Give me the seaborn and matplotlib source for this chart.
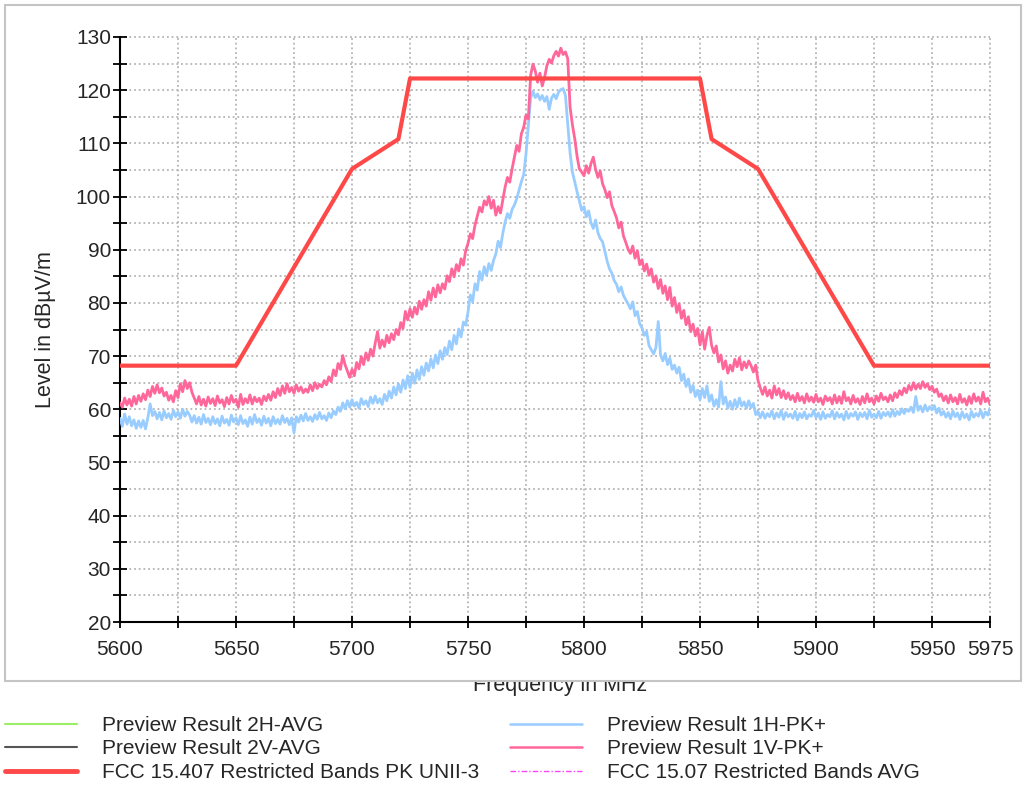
import numpy as np
import pandas as pd
import matplotlib
matplotlib.use("Agg")
import matplotlib.pyplot as plt
from matplotlib.patches import Rectangle
from matplotlib.transforms import Bbox
from matplotlib.ticker import FixedLocator, MultipleLocator, NullFormatter
import seaborn as sns

# ---------------------------------------------------------------- data
freq_start_mhz = 5600
freq_stop_mhz = 5975
# sweep points, 1 MHz apart
freq_mhz = np.arange(freq_start_mhz, freq_stop_mhz + 1)

# Preview Result 1V-PK+ (dBuV/m)
level_1v_pk = [
    61.2, 60.4, 62.1, 60.8, 61.9, 60.6, 62.4, 61.0, 62.6, 61.5,
    62.9, 61.8, 63.6, 62.4, 64.3, 63.0, 64.6, 63.1, 64.0, 62.5,
    63.2, 61.7, 62.6, 61.4, 63.5, 62.2, 64.8, 63.3, 65.4, 63.9,
    65.0, 63.2, 62.1, 61.0, 62.4, 60.8, 61.9, 60.6, 62.3, 61.1,
    62.0, 60.7, 62.5, 61.2, 61.8, 60.5, 62.2, 61.0, 62.6, 61.3,
    61.9, 60.4, 62.8, 60.9, 62.0, 61.2, 62.7, 61.0, 62.3, 61.4,
    62.1, 60.9, 62.5, 61.6, 62.8, 61.7, 63.3, 62.2, 63.9, 62.6,
    64.4, 63.0, 64.8, 63.3, 64.1, 63.0, 64.6, 63.4, 64.2, 63.1,
    63.8, 63.2, 64.6, 63.5, 65.0, 63.9, 64.7, 64.2, 65.4, 64.6,
    66.1, 65.2, 67.4, 66.3, 68.6, 67.5, 70.1, 68.4, 67.2, 66.0,
    67.5, 66.3, 68.8, 67.6, 69.9, 68.4, 70.6, 69.2, 71.3, 70.0,
    72.4, 74.6, 71.5, 73.0, 71.8, 73.9, 72.5, 74.2, 73.1, 75.0,
    74.0, 76.3, 75.2, 78.4, 76.8, 78.9, 77.3, 79.2, 77.9, 80.3,
    78.8, 80.6, 79.4, 82.1, 80.5, 82.8, 81.1, 83.4, 81.9, 83.6,
    82.6, 85.1, 84.0, 86.4, 84.9, 87.2, 86.0, 88.3, 87.1, 89.8,
    91.2, 93.0, 92.1, 94.6, 96.3, 98.0, 97.1, 99.2, 98.4, 100.0,
    97.8, 99.3, 96.5, 98.1, 96.9, 99.4, 101.8, 103.6, 102.7, 105.2,
    107.4, 109.6, 108.5, 111.8, 113.0, 115.3, 114.6, 122.8, 124.9, 123.6,
    121.5, 123.2, 120.8, 122.4, 124.6, 125.8, 125.1, 126.5, 127.3, 126.4,
    127.9, 126.7, 127.2, 125.9, 116.8, 113.5, 110.9, 107.6, 105.2, 104.6,
    103.9, 105.8, 104.4, 106.2, 107.4, 105.1, 103.6, 104.8, 102.4, 101.3,
    99.8, 100.9, 98.3, 97.2, 96.0, 94.1, 95.2, 92.6, 91.4, 90.1,
    89.3, 90.7, 88.4, 89.8, 87.2, 88.1, 86.0, 87.3, 85.2, 86.4,
    83.9, 85.1, 82.7, 84.4, 81.8, 83.2, 80.6, 82.9, 79.4, 81.0,
    78.2, 79.8, 77.1, 78.6, 75.9, 77.4, 74.6, 76.0, 73.8, 75.2,
    72.1, 74.6, 71.3, 73.9, 75.4, 72.0, 70.6, 71.9, 68.9, 70.2,
    67.6, 69.1, 66.8, 68.3, 67.2, 69.4, 68.0, 69.7, 67.4, 68.9,
    67.8, 69.1, 68.2, 67.0, 68.3, 65.4, 64.0, 62.8, 64.2, 62.5,
    63.6, 62.1, 64.4, 62.7, 63.9, 62.2, 63.5, 62.0, 63.1, 61.8,
    62.6, 61.4, 63.0, 61.6, 62.4, 61.2, 62.9, 61.5, 62.3, 61.3,
    62.8, 61.4, 62.1, 60.9, 62.5, 61.6, 62.2, 61.0, 62.7, 61.2,
    62.4, 61.1, 63.3, 61.6, 62.2, 61.0, 62.6, 61.3, 62.0, 60.9,
    62.4, 61.2, 62.9, 61.4, 62.1, 61.0, 62.5, 61.5, 63.0, 61.8,
    62.3, 61.4, 62.7, 61.6, 63.1, 62.2, 63.5, 62.7, 64.0, 63.1,
    64.5, 63.6, 65.0, 63.8, 64.7, 63.9, 65.2, 64.1, 64.8, 63.7,
    64.3, 63.2, 63.8, 62.4, 62.9, 61.6, 62.5, 61.2, 62.7, 61.4,
    62.2, 61.0, 62.8, 61.3, 62.0, 60.8, 62.4, 61.1, 62.9, 61.5,
    62.3, 61.0, 63.2, 61.4, 62.1, 60.9,
]

# Preview Result 1H-PK+ (dBuV/m)
level_1h_pk = [
    58.3, 56.8, 59.1, 57.2, 58.6, 56.9, 58.0, 56.4, 57.8, 56.6,
    57.9, 56.3, 58.4, 61.0, 58.8, 59.6, 58.2, 59.4, 58.0, 59.7,
    58.4, 59.2, 58.1, 59.8, 58.6, 59.5, 58.3, 60.0, 58.7, 59.6,
    58.9, 57.6, 58.8, 57.4, 58.5, 57.2, 59.0, 57.5, 58.3, 57.1,
    58.6, 57.3, 58.2, 56.9, 58.7, 57.4, 58.1, 57.0, 58.9, 57.6,
    58.4, 57.1, 58.8, 57.3, 58.0, 56.8, 58.5, 57.2, 59.0, 57.5,
    58.2, 57.0, 58.7, 57.4, 58.3, 56.9, 58.6, 57.3, 58.1, 57.2,
    58.8, 57.5, 58.3, 57.1, 58.4, 55.6, 58.6, 57.6, 58.9, 57.8,
    59.2, 57.9, 58.6, 57.7, 59.0, 58.1, 59.4, 58.2, 58.8, 57.9,
    59.3, 58.4, 59.7, 59.0, 60.4, 59.6, 61.2, 60.1, 61.6, 60.4,
    61.8, 60.6, 61.3, 60.2, 62.0, 60.9, 61.6, 60.5, 62.3, 61.1,
    62.5, 61.2, 62.0, 60.9, 62.8, 61.6, 63.4, 62.1, 64.2, 62.7,
    64.8, 63.2, 65.5, 63.9, 66.3, 64.1, 66.8, 64.9, 67.4, 65.6,
    68.0, 66.4, 68.7, 67.2, 69.5, 67.8, 70.2, 68.6, 71.0, 69.4,
    71.6, 70.3, 72.8, 71.2, 73.9, 72.3, 75.1, 73.6, 76.4, 75.8,
    78.3, 81.5, 80.2, 83.6, 82.4, 85.9, 84.3, 86.8, 85.2, 87.4,
    86.1, 88.0, 89.2, 91.6, 90.4, 93.1, 95.2, 96.8, 95.9, 97.6,
    98.4, 99.6, 101.2, 102.8, 104.1, 108.0, 113.2, 118.5, 119.8, 118.6,
    119.3, 118.2, 119.0, 117.9, 118.8, 116.4, 118.5, 119.2, 118.4, 119.6,
    120.1, 120.3, 119.0, 113.5, 108.2, 104.6, 102.8, 100.9, 99.2, 97.4,
    98.1, 96.2, 97.3, 95.1, 94.0, 95.6, 93.2, 92.1, 91.5, 89.7,
    87.8, 86.4, 85.6, 84.2, 83.5, 82.1, 83.0, 81.4, 80.6, 79.8,
    78.9, 80.2, 77.6, 78.4, 76.1, 75.3, 73.9, 74.6, 72.0, 71.2,
    70.4, 71.6, 76.5, 70.2, 69.1, 70.5, 68.4, 69.6, 67.5, 68.3,
    66.8, 67.9, 65.4, 66.6, 64.3, 65.7, 63.2, 64.5, 62.4, 63.6,
    61.8, 63.9, 62.2, 64.4, 61.5, 62.7, 60.6, 61.8, 60.4, 65.2,
    61.0, 62.3, 60.2, 61.5, 60.0, 61.8, 60.4, 62.1, 60.6, 61.4,
    60.2, 61.6, 60.3, 61.1, 59.0, 59.6, 58.4, 59.5, 58.3, 59.2,
    58.6, 59.7, 58.2, 59.3, 58.5, 59.8, 58.1, 59.4, 58.6, 59.1,
    58.3, 59.6, 58.0, 59.2, 58.4, 59.5, 58.2, 59.0, 58.7, 59.8,
    58.4, 59.3, 58.1, 59.5, 58.3, 59.0, 58.6, 59.7, 58.2, 59.4,
    58.5, 59.1, 58.0, 59.6, 58.3, 59.2, 58.7, 59.5, 58.1, 59.3,
    58.6, 59.4, 58.2, 59.8, 58.5, 59.1, 58.4, 59.6, 58.3, 59.4,
    58.8, 59.5, 58.6, 59.9, 58.7, 59.6, 59.0, 60.1, 59.2, 60.0,
    59.6, 60.4, 59.4, 62.4, 59.8, 60.6, 59.5, 60.8, 59.7, 60.5,
    59.9, 60.7, 59.3, 60.2, 58.9, 59.6, 58.5, 59.4, 58.2, 59.7,
    58.6, 59.3, 58.1, 59.5, 58.4, 59.1, 58.0, 59.6, 58.5, 59.2,
    58.7, 59.8, 58.4, 59.5, 58.9, 60.2,
]

# FCC 15.407 restricted-band peak limit around UNII-3
limit_freq_mhz = [5600, 5650, 5700, 5720, 5725, 5850, 5855, 5875, 5925, 5975]
limit_pk_unii3 = [68.2, 68.2, 105.2, 110.8, 122.2, 122.2, 110.8, 105.2, 68.2, 68.2]

x_tick_values = [5600, 5650, 5700, 5750, 5800, 5850, 5900, 5950, 5975]
x_minor_values = [5625, 5675, 5725, 5775, 5825, 5875, 5925]
y_min, y_max = 20, 130

name_2h_avg = "Preview Result 2H-AVG"
name_2v_avg = "Preview Result 2V-AVG"
name_limit_pk = "FCC 15.407 Restricted Bands PK UNII-3"
name_1h_pk = "Preview Result 1H-PK+"
name_1v_pk = "Preview Result 1V-PK+"
name_limit_avg = "FCC 15.07 Restricted Bands AVG"

# ---------------------------------------------------------------- style
sns.set_style("ticks")
plt.rcParams["font.family"] = ["Liberation Sans", "DejaVu Sans"]

col_green = "#99EE66"
col_gray = "#555555"
col_red = "#FF4848"
col_blue = "#99CCFF"
col_pink = "#FF6699"
col_magenta = "#FF44FF"

W, H = 1029, 792
fig = plt.figure(figsize=(W / 100, H / 100), dpi=100)
ax = fig.add_axes([120 / W, 1 - 622 / H, 870 / W, 585 / H])

traces = pd.DataFrame({
    "freq": np.concatenate([freq_mhz, freq_mhz]),
    "level": np.concatenate([level_1h_pk, level_1v_pk]),
    "trace": [name_1h_pk] * len(freq_mhz) + [name_1v_pk] * len(freq_mhz),
})
limit_df = pd.DataFrame({"freq": limit_freq_mhz, "level": limit_pk_unii3})

sns.lineplot(data=traces[traces["trace"] == name_1h_pk], x="freq", y="level",
             color=col_blue, lw=2.0, estimator=None, sort=False, ax=ax,
             zorder=3, legend=False)
sns.lineplot(data=traces[traces["trace"] == name_1v_pk], x="freq", y="level",
             color=col_pink, lw=2.0, estimator=None, sort=False, ax=ax,
             zorder=4, legend=False)
sns.lineplot(data=limit_df, x="freq", y="level", color=col_red, lw=3.0,
             estimator=None, sort=False, ax=ax, zorder=5, legend=False)

ax.set_xlim(freq_start_mhz, freq_stop_mhz)
ax.set_ylim(y_min, y_max)
ax.set_xlabel("")
ax.set_ylabel("")

ax.xaxis.set_major_locator(FixedLocator(x_tick_values))
ax.xaxis.set_minor_locator(FixedLocator(x_minor_values))
ax.xaxis.set_minor_formatter(NullFormatter())
ax.set_xticklabels([str(v) for v in x_tick_values])
ax.yaxis.set_major_locator(MultipleLocator(10))
ax.yaxis.set_minor_locator(MultipleLocator(5))

for s in ("top", "right"):
    ax.spines[s].set_visible(False)
for s in ("left", "bottom"):
    ax.spines[s].set_color("black")
    ax.spines[s].set_linewidth(1.5)

ax.tick_params(axis="both", which="both", direction="inout", color="black",
               width=1.3, labelsize=15)
ax.tick_params(axis="y", which="both", length=10, pad=1.5)
ax.tick_params(axis="x", which="both", length=9, pad=8.5)

grid_kw = dict(color="#b4b4b4", linestyle=(0, (1, 1.6)), linewidth=1.3)
ax.grid(True, which="both", axis="both", **grid_kw)
ax.set_axisbelow(True)
for gl in ax.get_xgridlines() + ax.get_ygridlines():
    gl.set_clip_on(False)

# axis titles
fig.text(46 / W, 1 - 330 / H, "Level in dBµV/m", rotation=90,
         ha="center", va="center", fontsize=15.5)
xl = fig.text(560 / W, 1 - 691 / H, "Frequency in MHz", ha="center",
              va="baseline", fontsize=15.5)
xl.set_clip_box(Bbox.from_extents(0, 0, W, H - 682))
xl.set_clip_on(True)

# outer frame of the chart area
fig.add_artist(Rectangle((5 / W, 1 - 681 / H), (1021 - 5) / W, (681 - 5) / H,
                         transform=fig.transFigure, fill=False,
                         edgecolor="#c4c4c4", linewidth=1.5))

# legend entries (AVG traces and AVG limit have no data in this sweep)
h_2h, = ax.plot([], [], color=col_green, lw=1.5, label=name_2h_avg)
h_2v, = ax.plot([], [], color=col_gray, lw=1.5, label=name_2v_avg)
h_pk, = ax.plot([], [], color=col_red, lw=3.5, label=name_limit_pk)
h_1h, = ax.plot([], [], color=col_blue, lw=1.8, label=name_1h_pk)
h_1v, = ax.plot([], [], color=col_pink, lw=1.8, label=name_1v_pk)
h_avg, = ax.plot([], [], color=col_magenta, lw=1.0, linestyle=(0, (4, 1.5, 1, 1.5)),
                 label=name_limit_avg)

leg_kw = dict(frameon=False, fontsize=15, handlelength=3.45, handletextpad=1.2,
              labelspacing=0.22, borderpad=0, borderaxespad=0, loc="center left")
fig.legend(handles=[h_2h, h_2v, h_pk], bbox_to_anchor=(5 / W, 1 - 749 / H), **leg_kw)
fig.legend(handles=[h_1h, h_1v, h_avg], bbox_to_anchor=(510 / W, 1 - 749 / H), **leg_kw)

fig.savefig("out.png", dpi=100)
